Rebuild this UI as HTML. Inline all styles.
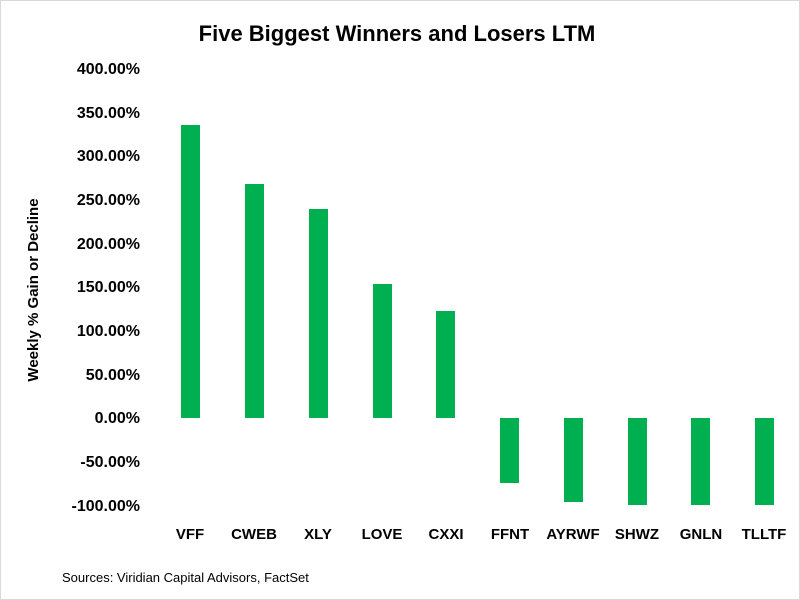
<!DOCTYPE html>
<html><head><meta charset="utf-8"><style>
body{margin:0;background:#fff}
svg{display:block}
text{font-family:"Liberation Sans",Arial,sans-serif;fill:#000}
</style></head><body>
<svg width="800" height="600" viewBox="0 0 800 600" xmlns="http://www.w3.org/2000/svg">
<rect x="0.5" y="0.5" width="799" height="599" fill="#fff" stroke="#d9d9d9"/>
<text x="397" y="41" font-size="22" font-weight="bold" text-anchor="middle">Five Biggest Winners and Losers LTM</text>
<g font-size="16" font-weight="bold" text-anchor="end">
<text x="140" y="74">400.00%</text>
<text x="140" y="118">350.00%</text>
<text x="140" y="161">300.00%</text>
<text x="140" y="205">250.00%</text>
<text x="140" y="249">200.00%</text>
<text x="140" y="292">150.00%</text>
<text x="140" y="336">100.00%</text>
<text x="140" y="380">50.00%</text>
<text x="140" y="423">0.00%</text>
<text x="140" y="467">-50.00%</text>
<text x="140" y="511">-100.00%</text>
</g>
<text transform="translate(38,290) rotate(-90)" font-size="15" font-weight="bold" text-anchor="middle">Weekly % Gain or Decline</text>
<g fill="#00b050">
<rect x="181" y="125" width="19" height="293"/>
<rect x="245" y="184" width="19" height="234"/>
<rect x="309" y="209" width="19" height="209"/>
<rect x="373" y="284" width="19" height="134"/>
<rect x="436" y="311" width="19" height="107"/>
<rect x="500" y="418" width="19" height="65"/>
<rect x="564" y="418" width="19" height="84"/>
<rect x="628" y="418" width="19" height="87"/>
<rect x="691" y="418" width="19" height="87"/>
<rect x="755" y="418" width="19" height="87"/>
</g>
<g font-size="15" font-weight="bold" text-anchor="middle">
<text x="190" y="539">VFF</text>
<text x="254" y="539">CWEB</text>
<text x="318" y="539">XLY</text>
<text x="382" y="539">LOVE</text>
<text x="446" y="539">CXXI</text>
<text x="510" y="539">FFNT</text>
<text x="573" y="539">AYRWF</text>
<text x="637" y="539">SHWZ</text>
<text x="701" y="539">GNLN</text>
<text x="764" y="539">TLLTF</text>
</g>
<text x="62" y="582" font-size="13">Sources: Viridian Capital Advisors, FactSet</text>
</svg>
</body></html>
